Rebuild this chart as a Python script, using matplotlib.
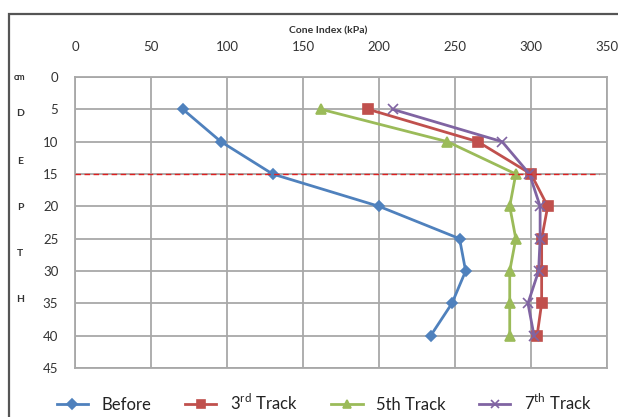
import matplotlib
matplotlib.use("Agg")
import matplotlib.pyplot as plt
from matplotlib.patches import Rectangle

plt.rcParams["font.family"] = ["Lato", "DejaVu Sans"]
plt.rcParams["mathtext.fontset"] = "custom"
plt.rcParams["mathtext.rm"] = "Lato"

# depth (cm) and cone index (kPa)
depth = [5, 10, 15, 20, 25, 30, 35, 40]
before = [71, 96, 130, 200, 253, 257, 248, 234]
track3 = [193, 265, 300, 311, 307, 307, 307, 304]
track5 = [162, 245, 290, 286, 290, 286, 286, 286]
track7 = [209, 281, 299, 306, 306, 305, 298, 302]

x_ticks = [0, 50, 100, 150, 200, 250, 300, 350]
y_ticks = [0, 5, 10, 15, 20, 25, 30, 35, 40, 45]
depth_letters = ["cm", "D", "E", "P", "T", "H"]
letter_y = [77, 113, 161, 207, 253, 299]  # pixel rows of the side letters
ref_depth = 15

W, H = 618, 417
fig = plt.figure(figsize=(W / 100, H / 100), dpi=100)
ax = fig.add_axes([75 / W, 1 - 368 / H, 532 / W, 291 / H])

# outer chart frame (runs off the right and bottom edges)
fig.patches.append(Rectangle((9 / W, -0.05), 1.1, 1 - 14 / H + 0.05,
                             transform=fig.transFigure, fill=False,
                             edgecolor="#555555", lw=1.6))

styles = [
    ("Before", before, "#4F81BD", "D", 5.5),
    ("3$^{\\mathrm{rd}}$ Track", track3, "#C0504D", "s", 7.5),
    ("5th Track", track5, "#9BBB59", "^", 7.5),
    ("7$^{\\mathrm{th}}$ Track", track7, "#8064A2", "x", 6.5),
]
handles = []
for label, vals, col, mk, ms in styles:
    h, = ax.plot(vals, depth, color=col, lw=2.0, marker=mk, ms=ms,
                 mec=col, mfc=col, mew=1.2, label=label, zorder=3)
    handles.append(h)

ax.plot([0, 345], [ref_depth, ref_depth], color="#e02020", lw=1.0,
        ls=(0, (4, 2.5)), zorder=5)

ax.set_xlim(0, 350)
ax.set_ylim(45, 0)
ax.set_xticks(x_ticks)
ax.set_yticks(y_ticks)
ax.xaxis.tick_top()
ax.tick_params(axis="x", length=0, pad=17, labelsize=9.5, labelcolor="#333333")
ax.tick_params(axis="y", length=0, pad=12, labelsize=9.5, labelcolor="#333333")
ax.grid(True, color="#a8a8a8", lw=1.3)
ax.set_axisbelow(True)
for s in ax.spines.values():
    s.set_color("#a8a8a8")
    s.set_linewidth(1.3)

fig.text(328 / W, 1 - 31 / H, "Cone Index (kPa)", ha="center", va="center",
         fontsize=7.5, fontweight="bold", color="#333333")

for txt, py in zip(depth_letters, letter_y):
    fig.text(20 / W, 1 - py / H, txt, ha="center", va="center",
             fontsize=6.5 if txt == "cm" else 7.5, fontweight="bold", color="#333333")

fig.legend(handles=handles, loc="center", bbox_to_anchor=(324 / W, 1 - 403 / H),
           ncol=4, frameon=False, fontsize=12, handlelength=1.9, markerscale=0.85,
           handletextpad=0.8, columnspacing=2.0, labelcolor="#222222")

fig.savefig("out.png", dpi=100)
